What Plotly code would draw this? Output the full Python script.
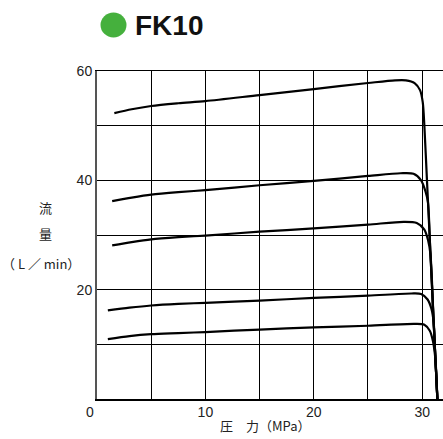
import plotly.graph_objects as go

# Pressure (MPa) / flow (L/min) characteristic curves
p1 = [1.6, 3.2, 5, 7.5, 10, 15, 20, 25, 27.5, 28.5, 29.3, 29.8, 30.05, 30.2, 30.44, 30.73, 31.06, 31.4]
q1 = [52.3, 53.0, 53.6, 54.1, 54.5, 55.6, 56.7, 57.8, 58.3, 58.3, 57.8, 56.5, 54.3, 50, 40, 28, 14, 0]

p2 = [1.4, 3.2, 5, 7.5, 10, 15, 20, 25, 28.0, 29.2, 29.9, 30.3, 30.53, 30.73, 31.06, 31.4]
q2 = [36.2, 36.85, 37.4, 37.85, 38.2, 39.1, 39.9, 40.8, 41.3, 41.2, 40.0, 38.0, 36, 28, 14, 0]

p3 = [1.4, 3.2, 5, 7.5, 10, 15, 20, 25, 28.3, 29.5, 30.2, 30.55, 30.76, 31.06, 31.4]
q3 = [28.1, 28.7, 29.2, 29.6, 29.9, 30.6, 31.2, 31.9, 32.4, 32.2, 31.0, 29.0, 26.5, 14, 0]

p4 = [1.0, 3.0, 5, 7.5, 10, 15, 20, 25, 29.0, 29.9, 30.5, 30.85, 31.06, 31.18, 31.4]
q4 = [16.2, 16.7, 17.1, 17.4, 17.6, 18.0, 18.5, 18.9, 19.3, 19.2, 18.2, 16.5, 14, 9, 0]

p5 = [1.0, 3.0, 5, 7.5, 10, 15, 20, 25, 29.3, 30.2, 30.7, 31.0, 31.23, 31.4]
q5 = [10.95, 11.5, 11.85, 12.05, 12.25, 12.7, 13.1, 13.4, 13.75, 13.6, 12.5, 10.5, 7, 0]

x_ticks = [10, 20, 30]
y_ticks = [20, 40, 60]

title_text = "FK10"
x_title = "圧　力（MPa）"
y_title_lines = ["流", "量", "（ L ／ min）"]

fig = go.Figure()
for px, qy in [(p1, q1), (p2, q2), (p3, q3), (p4, q4), (p5, q5)]:
    fig.add_trace(go.Scatter(x=px, y=qy, mode="lines",
                             line=dict(color="black", width=2.2, shape="spline", smoothing=0.8),
                             showlegend=False, hoverinfo="skip"))

L, T, B = 97, 71, 40
W, H = 443, 439
pw = W - L
ph = H - T - B

def px2x(x):
    return (x - L) / pw

def px2y(y):
    return (H - B - y) / ph

tickfont = dict(family="Liberation Sans, Arial, sans-serif", size=14, color="#222")
cjk = "Noto Sans CJK JP, sans-serif"

fig.update_layout(
    width=W, height=H,
    margin=dict(l=L, r=0, t=T, b=B),
    plot_bgcolor="white", paper_bgcolor="white",
    xaxis=dict(range=[0, 31.92], tickvals=x_ticks, showgrid=True, gridcolor="black", gridwidth=1,
               minor=dict(dtick=5, tick0=0, showgrid=True, gridcolor="black", gridwidth=1),
               showline=True, linecolor="black", linewidth=1.5, mirror=True,
               zeroline=False, ticks="", tickfont=tickfont, fixedrange=True),
    yaxis=dict(range=[0, 60], tickvals=y_ticks, showgrid=True, gridcolor="black", gridwidth=1,
               minor=dict(dtick=10, tick0=0, showgrid=True, gridcolor="black", gridwidth=1),
               showline=True, linecolor="#555", linewidth=2, mirror=False,
               zeroline=False, ticks="", tickfont=tickfont, fixedrange=True),
)

# Title: green dot + bold text
fig.add_shape(type="circle", xref="paper", yref="paper",
              x0=px2x(100.5), x1=px2x(126.5), y0=px2y(37.5), y1=px2y(12.5),
              fillcolor="#45b03d", line=dict(width=0))
fig.add_annotation(text="<b>" + title_text + "</b>", xref="paper", yref="paper",
                   x=px2x(133), y=px2y(25), xanchor="left", yanchor="middle", showarrow=False,
                   font=dict(family="Liberation Sans, Arial, sans-serif", size=28, color="#111"))

# origin label
fig.add_annotation(text="0", xref="paper", yref="paper", x=px2x(90), y=px2y(412),
                   xanchor="center", yanchor="middle", showarrow=False, font=tickfont)

# x title
fig.add_annotation(text=x_title, xref="paper", yref="paper", x=px2x(265), y=px2y(425),
                   xanchor="center", yanchor="middle", showarrow=False,
                   font=dict(family=cjk, size=13, color="#222"))

# y title (stacked)
for txt, yy, xx in zip(y_title_lines, [207, 233, 263], [45, 45, 41]):
    fig.add_annotation(text=txt, xref="paper", yref="paper", x=px2x(xx), y=px2y(yy),
                       xanchor="center", yanchor="middle", showarrow=False,
                       font=dict(family=cjk, size=13, color="#222"))

fig.write_html("out.html", config={"displayModeBar": False, "staticPlot": True},
               post_script="document.body.style.margin='0';document.body.style.overflow='hidden';")
